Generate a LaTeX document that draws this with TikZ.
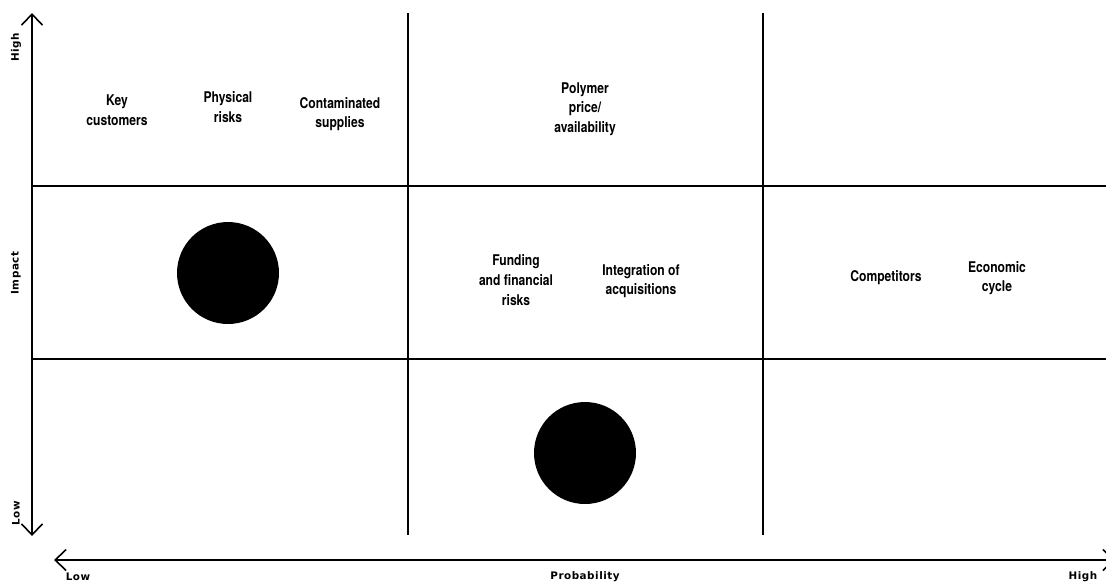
\documentclass[tikz,border=0pt]{standalone}
\usepackage{fontspec}
\setmainfont{Liberation Sans}
\newfontfamily\condfont{TeX Gyre Heros}[FakeStretch=0.82]
\newfontfamily\axfont{DejaVu Sans}[LetterSpace=5]
\usetikzlibrary{positioning,arrows.meta}
\tikzset{
  risk/.style={align=center, font=\condfont\bfseries\fontsize{8.4}{11.2}\selectfont,
               inner sep=1pt},
  axlbl/.style={font=\axfont\bfseries\fontsize{5.9}{7}\selectfont, inner sep=1pt},
  grid line/.style={line width=0.9pt},
  axis line/.style={line width=0.9pt, {Straight Barb[length=2.2mm,width=4.2mm]}-{Straight Barb[length=2.2mm,width=4.2mm]}},
  dot/.style={circle, fill=black, minimum size=2.04cm, inner sep=0pt},
}
\begin{document}
\begin{tikzpicture}[x=0.02cm,y=-0.02cm]
  \useasboundingbox (0,0) rectangle (1106,583);
  % axes
  \coordinate (imptop) at (32,13);
  \coordinate (impbot) at (32,536);
  \coordinate (problow) at (54,560);
  \coordinate (probhigh) at (1115,560);
  \draw[axis line] (impbot) -- (imptop);
  \draw[axis line] (problow) -- (probhigh);
  % grid
  \coordinate (h1l) at (32,186);   \coordinate (h1r) at (1106,186);
  \coordinate (h2l) at (32,359);   \coordinate (h2r) at (1106,359);
  \coordinate (v1t) at (408,13);   \coordinate (v1b) at (408,535);
  \coordinate (v2t) at (763,13);   \coordinate (v2b) at (763,535);
  \draw[grid line] (h1l) -- (h1r);
  \draw[grid line] (h2l) -- (h2r);
  \draw[grid line] (v1t) -- (v1b);
  \draw[grid line] (v2t) -- (v2b);
  % axis labels
  \node[axlbl, rotate=90] (imphigh) at (16,47) {High};
  \node[axlbl, rotate=90] (impact) at (16,273) {Impact};
  \node[axlbl, rotate=90] (implow) at (16,513) {Low};
  \node[axlbl] (plow) at (78,577) {Low};
  \node[axlbl] (prob) at (585,577) {Probability};
  \node[axlbl] (phigh) at (1083,577) {High};
  % risks
  \node[risk] (keycust) at (117,110) {Key\\customers};
  \node[risk] (physical) at (228,107) {Physical\\risks};
  \node[risk] (contam) at (340,114) {Contaminated\\supplies};
  \node[risk] (polymer) at (585,109) {Polymer\\price/\\availability};
  \node[risk] (funding) at (516,280) {Funding\\and financial\\risks};
  \node[risk] (integr) at (641,281) {Integration of\\acquisitions};
  \node[risk] (compet) at (886,278) {Competitors};
  \node[risk] (econ) at (997,278) {Economic\\cycle};
  % dots
  \node[dot] (dotA) at (228,273) {};
  \node[dot] (dotB) at (585,453) {};
\end{tikzpicture}
\end{document}
